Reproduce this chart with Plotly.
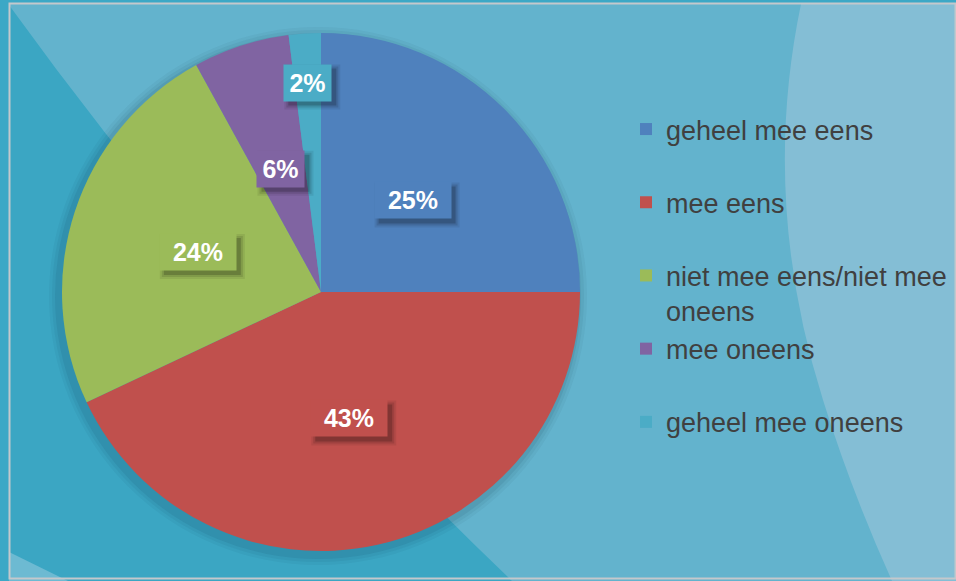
import math
import plotly.graph_objects as go

# ---- data ----
categories = ["geheel mee eens", "mee eens", "niet mee eens/niet mee oneens",
              "mee oneens", "geheel mee oneens"]
legend_labels = ["geheel mee eens<br> ", "mee eens<br> ", "niet mee eens/niet mee<br>oneens",
                 "mee oneens<br> ", "geheel mee oneens<br> "]
values = [25, 43, 24, 6, 2]
colors = ["#4F81BD", "#C0504D", "#9BBB59", "#8064A2", "#4BACC6"]
label_radius = [0.5, 0.5, 0.5, 0.5, 0.81]

W, H = 956, 581
def px(x):
    return x / W
def py(y):
    return 1 - y / H

# pie geometry (pixels)
CX, CY, R = 321, 292, 259
FONT = "Liberation Sans, Arial"

fig = go.Figure(go.Pie(
    labels=legend_labels,
    values=values,
    marker=dict(colors=colors, line=dict(width=0)),
    sort=False,
    direction="clockwise",
    rotation=0,
    textinfo="none",
    hoverinfo="label+percent",
    domain=dict(x=[px(CX - R), px(CX + R)], y=[py(CY + R), py(CY - R)]),
))

shapes = []
# base panel
shapes.append(dict(type="rect", xref="paper", yref="paper", x0=px(9), x1=px(956), y0=py(581), y1=py(4),
                   fillcolor="#63b3cd", line=dict(width=0), layer="below"))
# darker left region
shapes.append(dict(type="path", xref="paper", yref="paper",
                   path=f"M {px(9)},{py(5)} Q {px(229)},{py(310)} {px(512)},{py(581)} L {px(9)},{py(581)} Z",
                   fillcolor="#3ba6c3", line=dict(width=0), layer="below"))
# small light corner bottom-left
shapes.append(dict(type="path", xref="paper", yref="paper",
                   path=f"M {px(9)},{py(552)} L {px(68)},{py(581)} L {px(9)},{py(581)} Z",
                   fillcolor="#6dbad2", line=dict(width=0), layer="below"))
# pale right region
shapes.append(dict(type="path", xref="paper", yref="paper",
                   path=(f"M {px(801)},{py(4)} Q {px(760)},{py(200)} {px(823)},{py(400)} "
                         f"Q {px(851)},{py(490)} {px(892)},{py(581)} L {px(956)},{py(581)} L {px(956)},{py(4)} Z"),
                   fillcolor="#84bed5", line=dict(width=0), layer="below"))
# soft pie shadow
for d, a in [(10, 0.04), (7, 0.05), (4, 0.07)]:
    shapes.append(dict(type="circle", xref="paper", yref="paper",
                       x0=px(CX - 3 - R - d), x1=px(CX - 3 + R + d),
                       y0=py(CY + 4 + R + d), y1=py(CY + 4 - R - d),
                       fillcolor=f"rgba(0,30,50,{a})", line=dict(width=0), layer="below"))
# frame border
shapes.append(dict(type="rect", xref="paper", yref="paper", x0=px(9.5), x1=px(955.5), y0=py(578.5), y1=py(3.5),
                   fillcolor="rgba(0,0,0,0)", line=dict(color="#c4c8cc", width=2), layer="above"))

# data labels placed from slice mid-angles
annotations = []
total = sum(values)
cum = 0
for v, c, f in zip(values, colors, label_radius):
    mid = (cum + v / 2) / total * 2 * math.pi
    cum += v
    lx = CX + R * f * math.sin(mid)
    ly = CY - R * f * math.cos(mid)
    txt = f"{v}%"
    bw = 29 * len(txt) - 19
    hw, hh = bw / 2 + 4, 18
    # blurred drop shadow behind the label box
    for grow, a in [(4, 0.07), (2, 0.11), (0, 0.18)]:
        shapes.append(dict(type="rect", xref="paper", yref="paper",
                           xsizemode="pixel", ysizemode="pixel", xanchor=px(lx), yanchor=py(ly),
                           x0=-hw + 4 - grow, x1=hw + 5 + grow, y0=-hh - 5 - grow, y1=hh - 4 + grow,
                           fillcolor=f"rgba(0,0,0,{a})", line=dict(width=0), layer="above"))
    annotations.append(dict(x=px(lx), y=py(ly), xref="paper", yref="paper", text=txt, showarrow=False,
                            xanchor="center", yanchor="middle",
                            width=bw, height=28, borderpad=4, bgcolor=c,
                            font=dict(family=FONT, size=25, color="white", weight="bold")))

fig.update_layout(
    width=W, height=H,
    margin=dict(l=0, r=0, t=0, b=0),
    paper_bgcolor="#3ca8c6",
    plot_bgcolor="rgba(0,0,0,0)",
    shapes=shapes,
    annotations=annotations,
    showlegend=True,
    legend=dict(x=px(626), y=py(105), xanchor="left", yanchor="top",
                font=dict(family=FONT, size=27, color="#404040"),
                bgcolor="rgba(0,0,0,0)", valign="top", traceorder="normal"),
)

fig.write_html("out.html", config={"displayModeBar": False},
               post_script="document.body.style.margin='0';")
